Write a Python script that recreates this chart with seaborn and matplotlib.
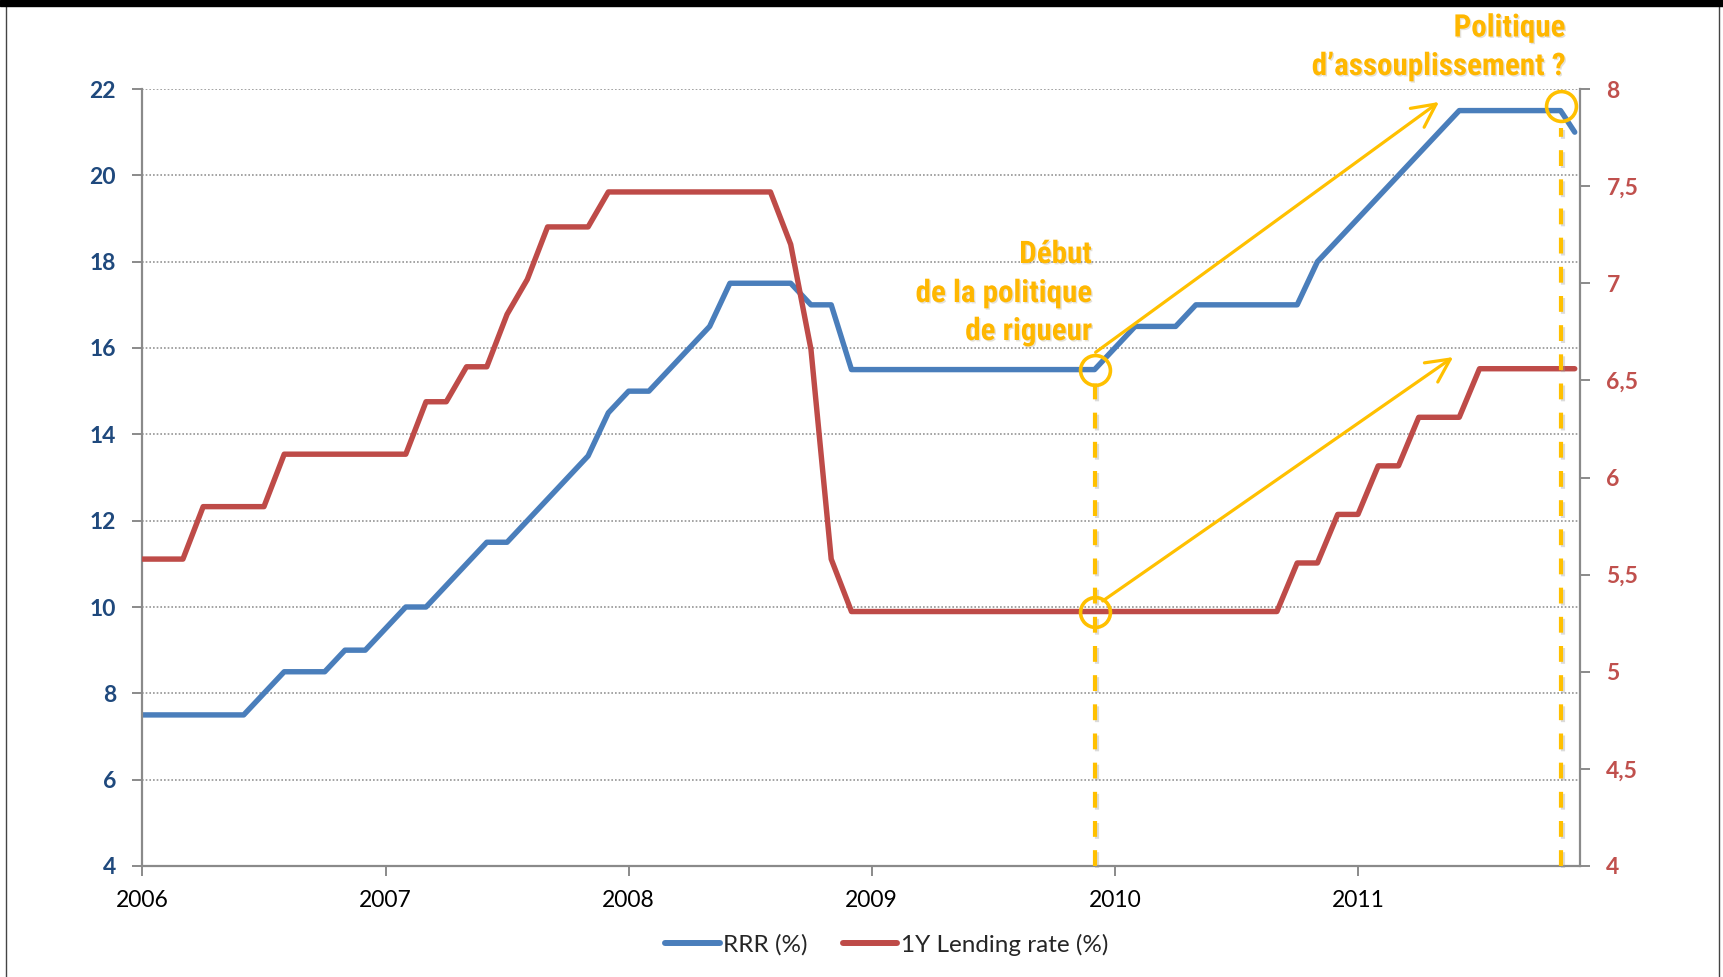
import numpy as np
import pandas as pd
import matplotlib
matplotlib.use("Agg")
import matplotlib.pyplot as plt
import matplotlib.patheffects as pe
from matplotlib import font_manager as fm
from matplotlib.lines import Line2D
from matplotlib.patches import Rectangle
import seaborn as sns

# ---------------- data ----------------
# month index from Jan 2006 (0) ... Nov 2011 (70), last point early Dec 2011
months = [0, 1, 2, 3, 4, 5, 6, 7, 8, 9, 10, 11, 12, 13, 14, 15, 16, 17, 18, 19,
          20, 21, 22, 23, 24, 25, 26, 27, 28, 29, 30, 31, 32, 33, 34, 35, 36, 37, 38, 39,
          40, 41, 42, 43, 44, 45, 46, 47, 48, 49, 50, 51, 52, 53, 54, 55, 56, 57, 58, 59,
          60, 61, 62, 63, 64, 65, 66, 67, 68, 69, 70, 70.7]

rrr = [7.5, 7.5, 7.5, 7.5, 7.5, 7.5, 8.0, 8.5, 8.5, 8.5, 9.0, 9.0,
       9.5, 10.0, 10.0, 10.5, 11.0, 11.5, 11.5, 12.0, 12.5, 13.0, 13.5, 14.5,
       15.0, 15.0, 15.5, 16.0, 16.5, 17.5, 17.5, 17.5, 17.5, 17.0, 17.0, 15.5,
       15.5, 15.5, 15.5, 15.5, 15.5, 15.5, 15.5, 15.5, 15.5, 15.5, 15.5, 15.5,
       16.0, 16.5, 16.5, 16.5, 17.0, 17.0, 17.0, 17.0, 17.0, 17.0, 18.0, 18.5,
       19.0, 19.5, 20.0, 20.5, 21.0, 21.5, 21.5, 21.5, 21.5, 21.5, 21.5, 21.0]

lending = [5.58, 5.58, 5.58, 5.85, 5.85, 5.85, 5.85, 6.12, 6.12, 6.12, 6.12, 6.12,
           6.12, 6.12, 6.39, 6.39, 6.57, 6.57, 6.84, 7.02, 7.29, 7.29, 7.29, 7.47,
           7.47, 7.47, 7.47, 7.47, 7.47, 7.47, 7.47, 7.47, 7.20, 6.66, 5.58, 5.31,
           5.31, 5.31, 5.31, 5.31, 5.31, 5.31, 5.31, 5.31, 5.31, 5.31, 5.31, 5.31,
           5.31, 5.31, 5.31, 5.31, 5.31, 5.31, 5.31, 5.31, 5.31, 5.56, 5.56, 5.81,
           5.81, 6.06, 6.06, 6.31, 6.31, 6.31, 6.56, 6.56, 6.56, 6.56, 6.56, 6.56]

year_ticks = [0, 12, 24, 36, 48, 60]
year_labels = ["2006", "2007", "2008", "2009", "2010", "2011"]
left_ticks = [4, 6, 8, 10, 12, 14, 16, 18, 20, 22]
left_labels = ["4", "6", "8", "10", "12", "14", "16", "18", "20", "22"]
right_ticks = [4, 4.5, 5, 5.5, 6, 6.5, 7, 7.5, 8]
right_labels = ["4", "4,5", "5", "5,5", "6", "6,5", "7", "7,5", "8"]
series_names = ["RRR (%)", "1Y Lending rate (%)"]
note_start = ["Début", "de la politique", "de rigueur"]
note_end = ["Politique", "d’assouplissement ?"]

df = pd.DataFrame({"month": months, "rrr": rrr, "lending": lending})

# ---------------- style ----------------
sns.set_theme(style="white")
plt.rcParams["font.family"] = ["Lato", "DejaVu Sans"]

BLUE = "#4A7EBB"
RED = "#BE4B48"
GOLD = "#FFC000"
TEXT_GOLD = "#FFB700"
AXCOL = "#8A8A8A"
W, H = 1723, 977


def narrow_bold_font():
    """Find a condensed/narrow bold face if one is installed."""
    wanted = ["liberation sans narrow", "arial narrow", "roboto condensed",
              "open sans condensed", "dejavu sans condensed", "noto sans condensed"]
    best = None
    for f in fm.fontManager.ttflist:
        name = f.name.lower()
        is_narrow = any(w in name for w in wanted) or \
            str(f.stretch).lower() in ("condensed", "semi-condensed", "extra-condensed")
        w = f.weight if isinstance(f.weight, int) else (700 if "bold" in str(f.weight) else 400)
        if is_narrow and w >= 600 and f.style == "normal":
            rank = next((i for i, k in enumerate(wanted) if k in name), len(wanted))
            if best is None or rank < best[0]:
                best = (rank, f.fname)
    if best:
        return fm.FontProperties(fname=best[1])
    return fm.FontProperties(family=["Liberation Sans", "DejaVu Sans"], weight="bold")


NOTE_FP = narrow_bold_font()

fig = plt.figure(figsize=(W / 100, H / 100), dpi=100)
ax = fig.add_axes([142.4 / W, 111 / H, (1580 - 142.4) / W, (866 - 89) / H])

sns.lineplot(data=df, x="month", y="rrr", ax=ax, color=BLUE, linewidth=3.9,
             legend=False, solid_capstyle="round", solid_joinstyle="round")
ax2 = ax.twinx()
sns.lineplot(data=df, x="month", y="lending", ax=ax2, color=RED, linewidth=3.9,
             legend=False, solid_capstyle="round", solid_joinstyle="round")

ax.set_xlim(0, 70.96)
ax.set_ylim(4, 22)
ax2.set_ylim(4, 8)
ax.set_xlabel("")
ax.set_ylabel("")
ax2.set_ylabel("")

ax.set_xticks(year_ticks)
ax.set_xticklabels(year_labels, fontsize=16.5, color="black")
ax.set_yticks(left_ticks)
ax.set_yticklabels(left_labels, fontsize=16.5, fontweight="bold", color="#1F497D")
ax2.set_yticks(right_ticks)
ax2.set_yticklabels(right_labels, fontsize=16.5, fontweight="bold", color="#C0504D")

ax.tick_params(axis="x", direction="out", length=7, width=1.4, color=AXCOL, pad=10,
               bottom=True)
ax.tick_params(axis="y", direction="out", length=7, width=1.4, color=AXCOL, pad=12,
               left=True)
ax2.tick_params(axis="y", direction="out", length=7, width=1.4, color=AXCOL, pad=12,
                right=True)

ax.grid(False)
ax2.grid(False)
ax.yaxis.grid(True, linestyle=(0, (1.1, 1.3)), color="#8C8C8C", linewidth=1.1)

for s in ["top", "right"]:
    ax.spines[s].set_visible(False)
for s in ["left", "bottom"]:
    ax.spines[s].set_color(AXCOL)
    ax.spines[s].set_linewidth(1.6)
for s in ["top", "left", "bottom"]:
    ax2.spines[s].set_visible(False)
ax2.spines["right"].set_color(AXCOL)
ax2.spines["right"].set_linewidth(1.6)

# ---------------- annotations ----------------
shadow = [pe.SimpleLineShadow(offset=(1.5, -1.5), shadow_color="#999999", alpha=0.35),
          pe.Normal()]
i_start = 47
i_end = 70
frac_start = (rrr[i_start] - 4) / 18
frac_end = (rrr[i_end] - 4) / 18

ax2.plot([months[i_start], months[i_start]], [4, 4 + (frac_start - 0.015) * 4],
         color=GOLD, lw=3.0, dashes=(3.8, 3.2), path_effects=shadow,
         solid_capstyle="butt", zorder=5, clip_on=False)
ax2.plot([months[i_end], months[i_end]], [4, 4 + (frac_end - 0.022) * 4],
         color=GOLD, lw=3.0, dashes=(3.8, 3.2), path_effects=shadow,
         solid_capstyle="butt", zorder=5, clip_on=False)

circ = dict(marker="o", ms=21.5, mfc="none", mec=GOLD, mew=2.6, ls="none",
            zorder=6, clip_on=False)
ax2.plot([months[i_start]], [rrr[i_start]], transform=ax.transData, **circ)
ax2.plot([months[i_start]], [lending[i_start]], **circ)
ax2.plot([months[i_end]], [rrr[i_end] + 0.1], transform=ax.transData, **circ)

arrow = dict(arrowstyle="->,head_length=1.4,head_width=0.7", color=GOLD, lw=2.3,
             shrinkA=0, shrinkB=0)
ax2.annotate("", xy=(64.0, 21.7), xytext=(47.05, 15.9),
             xycoords=ax.transData, textcoords=ax.transData, arrowprops=arrow, zorder=6)
ax2.annotate("", xy=(64.7, 15.79), xytext=(47.4, 10.14),
             xycoords=ax.transData, textcoords=ax.transData, arrowprops=arrow, zorder=6)

# note texts: size fitted so "de la politique" is ~176 px wide
txt_fx = [pe.SimplePatchShadow(offset=(1, -1), alpha=0.15), pe.Normal()]
renderer = fig.canvas.get_renderer()
probe = fig.text(0, 0, note_start[1], fontproperties=NOTE_FP, fontsize=20)
pw = probe.get_window_extent(renderer).width
probe.remove()
note_size = min(24.0, 20 * 176.0 / pw)

for line, ybase in zip(note_start, [263, 302, 340]):
    fig.text(1091.7 / W, 1 - ybase / H, line, ha="right", va="baseline",
             fontproperties=NOTE_FP, fontsize=note_size, color=TEXT_GOLD,
             path_effects=txt_fx, zorder=7)
for line, ybase in zip(note_end, [36.5, 75]):
    fig.text(1565 / W, 1 - ybase / H, line, ha="right", va="baseline",
             fontproperties=NOTE_FP, fontsize=note_size, color=TEXT_GOLD,
             path_effects=txt_fx, zorder=7)

# ---------------- legend ----------------
handles = [Line2D([], [], color=BLUE, lw=4.3, solid_capstyle="round"),
           Line2D([], [], color=RED, lw=4.3, solid_capstyle="round")]
fig.legend(handles, series_names, loc="center", bbox_to_anchor=(0.5145, 0.033),
           ncol=2, frameon=False, fontsize=17.5, handlelength=2.26, handletextpad=0.14,
           columnspacing=1.44)

# ---------------- frame ----------------
fig.patches.append(Rectangle((0, 1 - 6 / H), 1, 6 / H, transform=fig.transFigure,
                             color="black", zorder=10))
fig.lines.append(Line2D([5.5 / W] * 2, [0, 1], transform=fig.transFigure,
                        color="#444444", lw=1.0))
fig.lines.append(Line2D([1718.5 / W] * 2, [0, 1], transform=fig.transFigure,
                        color="#444444", lw=1.0))

fig.savefig("out.png", dpi=100)
